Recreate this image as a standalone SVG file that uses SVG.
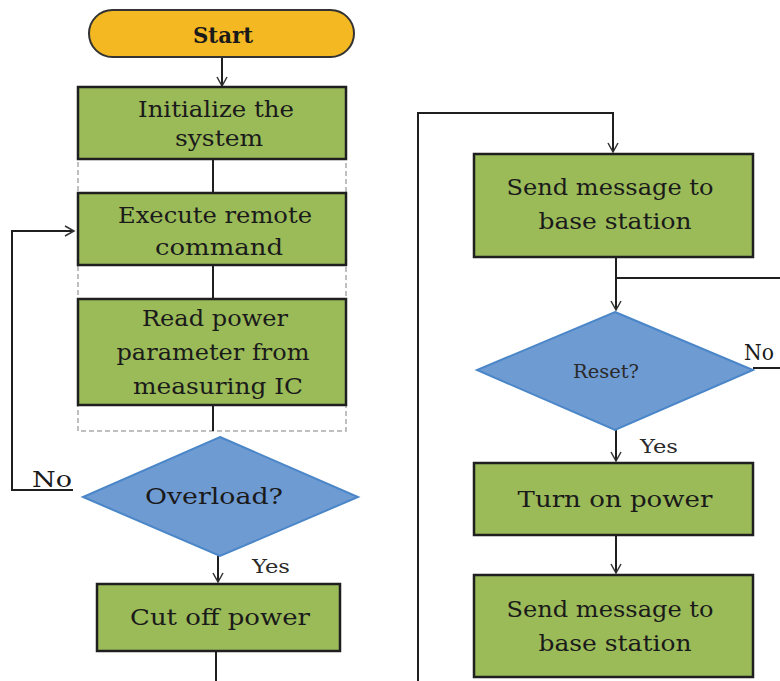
<svg xmlns="http://www.w3.org/2000/svg" width="780" height="681" viewBox="0 0 780 681">
<defs>
<marker id="arr" markerWidth="12" markerHeight="12" refX="10" refY="6" orient="auto" markerUnits="userSpaceOnUse">
<path d="M1,1 L10,6 L1,11" fill="none" stroke="#333" stroke-width="1.5"/>
</marker>
<style>
.proc{fill:#9BBB59;stroke:#1f1f1f;stroke-width:2.5}
.dec{fill:#6F9BD3;stroke:#4A86C8;stroke-width:2}
.term{fill:#F4B922;stroke:#333;stroke-width:2}
.t{font-family:"DejaVu Serif","Liberation Serif",serif;font-size:23px;fill:#1a1a1a;text-anchor:middle}
.s{font-family:"DejaVu Serif","Liberation Serif",serif;font-size:18px;fill:#2a2a2a;text-anchor:middle}
.c{fill:none;stroke:#1f1f1f;stroke-width:2}
.ca{fill:none;stroke:#1f1f1f;stroke-width:2;marker-end:url(#arr)}
</style>
</defs>
<rect x="78" y="159" width="268" height="272" fill="#fff" stroke="#aaa" stroke-width="1.5" stroke-dasharray="5,3"/>
<g id="connectors">
<path class="ca" d="M222,57 V86"/>
<path class="c" d="M213,159 V193"/>
<path class="c" d="M213,265 V299"/>
<path class="c" d="M213,405 V431"/>
<path class="ca" d="M73,490 H12 V231 H74"/>
<path class="ca" d="M218,556 V582"/>
<path class="c" d="M216,651 V690"/>
<path class="ca" d="M418,690 V113 H613 V152"/>
<path class="ca" d="M616,257 V310"/>
<path class="c" d="M790,278 H616"/>
<path class="c" d="M753,368 H790"/>
<path class="ca" d="M616,430 V461"/>
<path class="ca" d="M616,535 V573"/>
</g>
<g id="start">
<rect class="term" x="89" y="10" width="265" height="47" rx="23.5"/>
<text class="t" x="223" y="43" font-weight="bold" textLength="60" lengthAdjust="spacingAndGlyphs">Start</text>
</g>
<g id="init">
<rect class="proc" x="78" y="87" width="268" height="72"/>
<text class="t" x="216" y="117" textLength="156" lengthAdjust="spacingAndGlyphs">Initialize the</text>
<text class="t" x="219" y="146" textLength="88" lengthAdjust="spacingAndGlyphs">system</text>
</g>
<g id="exec">
<rect class="proc" x="78" y="193" width="268" height="72"/>
<text class="t" x="215" y="223" textLength="194" lengthAdjust="spacingAndGlyphs">Execute remote</text>
<text class="t" x="219" y="255" textLength="128" lengthAdjust="spacingAndGlyphs">command</text>
</g>
<g id="read">
<rect class="proc" x="78" y="299" width="268" height="106"/>
<text class="t" x="215" y="326" textLength="146" lengthAdjust="spacingAndGlyphs">Read power</text>
<text class="t" x="213" y="360" textLength="193" lengthAdjust="spacingAndGlyphs">parameter from</text>
<text class="t" x="218" y="394" textLength="170" lengthAdjust="spacingAndGlyphs">measuring IC</text>
</g>
<g id="overload">
<polygon class="dec" points="220,437 358,497 220,556 83,497"/>
<text class="t" x="214" y="504" textLength="138" lengthAdjust="spacingAndGlyphs">Overload?</text>
<text class="t" x="52" y="487" textLength="40" lengthAdjust="spacingAndGlyphs">No</text>
<text class="s" x="271" y="573" textLength="38" lengthAdjust="spacingAndGlyphs">Yes</text>
</g>
<g id="cutoff">
<rect class="proc" x="97" y="584" width="243" height="67"/>
<text class="t" x="220" y="625" textLength="180" lengthAdjust="spacingAndGlyphs">Cut off power</text>
</g>
<g id="send1">
<rect class="proc" x="474" y="154" width="279" height="103"/>
<text class="t" x="610" y="195" textLength="207" lengthAdjust="spacingAndGlyphs">Send message to</text>
<text class="t" x="615" y="229" textLength="153" lengthAdjust="spacingAndGlyphs">base station</text>
</g>
<g id="reset">
<polygon class="dec" points="615,312 753,370 615,430 477,370"/>
<text class="s" x="606" y="378" textLength="66" lengthAdjust="spacingAndGlyphs">Reset?</text>
<text class="t" x="744" y="360" style="text-anchor:start" textLength="30" lengthAdjust="spacingAndGlyphs">No</text>
<text class="s" x="659" y="453" textLength="38" lengthAdjust="spacingAndGlyphs">Yes</text>
</g>
<g id="turnon">
<rect class="proc" x="474" y="463" width="279" height="72"/>
<text class="t" x="615" y="507" textLength="195" lengthAdjust="spacingAndGlyphs">Turn on power</text>
</g>
<g id="send2">
<rect class="proc" x="474" y="575" width="279" height="102"/>
<text class="t" x="610" y="617" textLength="207" lengthAdjust="spacingAndGlyphs">Send message to</text>
<text class="t" x="615" y="651" textLength="153" lengthAdjust="spacingAndGlyphs">base station</text>
</g>
</svg>
